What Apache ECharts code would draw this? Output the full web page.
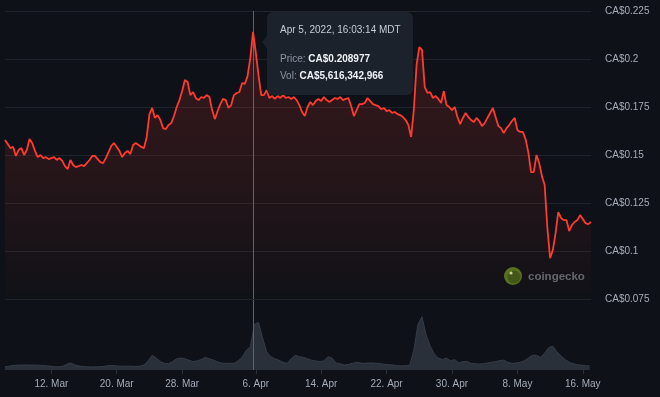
<!DOCTYPE html>
<html>
<head>
<meta charset="utf-8">
<script src="https://cdn.jsdelivr.net/npm/echarts@6/dist/echarts.min.js"></script>
<style>
html,body{margin:0;padding:0;background:#0e1117;}
#chart{width:660px;height:397px;}
</style>
</head>
<body>
<div id="chart"></div>
<script>
var HOUR = 3600 * 1000;

// price, CA$, one reading every 8 hours from 6 Mar 2022 08:00
var priceStart = new Date(2022, 2, 6, 8).getTime();
var priceStepHours = 8;
var prices = [
    0.1578,0.1557,0.1536,0.1542,0.1495,0.1526,0.1536,0.1500,0.1526,0.1583,
    0.1562,0.1521,0.1489,0.1500,0.1484,0.1489,0.1479,0.1484,0.1489,0.1474,
    0.1484,0.1469,0.1442,0.1427,0.1474,0.1448,0.1437,0.1442,0.1448,0.1442,
    0.1458,0.1474,0.1495,0.1495,0.1479,0.1463,0.1458,0.1484,0.1515,0.1547,
    0.1562,0.1542,0.1521,0.1489,0.1510,0.1521,0.1505,0.1552,0.1562,0.1552,
    0.1542,0.1536,0.1594,0.1713,0.1745,0.1693,0.1708,0.1682,0.1640,0.1635,
    0.1656,0.1666,0.1703,0.1750,0.1786,0.1833,0.1891,0.1880,0.1812,0.1828,
    0.1797,0.1786,0.1802,0.1797,0.1812,0.1802,0.1734,0.1687,0.1729,0.1765,
    0.1792,0.1786,0.1745,0.1760,0.1812,0.1823,0.1828,0.1875,0.1870,0.1912,
    0.2005,0.2141,0.2036,0.1917,0.1812,0.1812,0.1838,0.1797,0.1807,0.1792,
    0.1807,0.1797,0.1812,0.1797,0.1802,0.1792,0.1802,0.1786,0.1760,0.1724,
    0.1703,0.1750,0.1776,0.1760,0.1781,0.1792,0.1781,0.1802,0.1786,0.1776,
    0.1786,0.1797,0.1792,0.1802,0.1786,0.1792,0.1797,0.1755,0.1703,0.1734,
    0.1765,0.1765,0.1771,0.1797,0.1781,0.1765,0.1760,0.1755,0.1739,0.1745,
    0.1729,0.1734,0.1719,0.1724,0.1713,0.1708,0.1698,0.1682,0.1656,0.1594,
    0.1734,0.1969,0.2062,0.2047,0.1854,0.1823,0.1828,0.1797,0.1807,0.1792,
    0.1771,0.1833,0.1760,0.1750,0.1734,0.1750,0.1698,0.1661,0.1693,0.1719,
    0.1698,0.1682,0.1672,0.1693,0.1677,0.1651,0.1666,0.1693,0.1719,0.1745,
    0.1698,0.1651,0.1640,0.1614,0.1640,0.1656,0.1677,0.1693,0.1630,0.1620,
    0.1620,0.1583,0.1515,0.1411,0.1411,0.1500,0.1458,0.1390,0.1344,0.1119,
    0.0963,0.1005,0.1093,0.1203,0.1172,0.1161,0.1161,0.1104,0.1135,0.1151,
    0.1161,0.1187,0.1166,0.1145,0.1140,0.1151
];

// 24h volume, billions of CA$, one reading every 12 hours
var volStart = new Date(2022, 2, 6, 8).getTime();
var volStepHours = 12;
var volumes = [
    0.45,0.55,0.65,0.7,0.7,0.72,0.7,0.7,0.68,0.65,
    0.6,0.55,0.45,0.45,0.5,0.8,1.0,0.75,0.6,0.5,
    0.45,0.42,0.45,0.45,0.5,0.6,0.65,0.6,0.55,0.55,
    0.55,0.55,0.5,0.55,0.7,1.3,2.1,1.7,1.2,0.95,
    0.9,1.2,1.6,1.7,1.6,1.4,1.2,1.3,1.5,1.8,
    1.6,1.4,1.15,1.0,0.95,0.95,0.95,1.3,1.8,2.8,
    3.3,6.5,6.8,4.6,2.6,1.9,1.6,1.4,1.1,0.95,
    1.6,2.1,1.9,1.8,1.6,1.4,1.3,1.2,1.3,1.9,
    1.7,1.0,0.9,0.7,0.8,0.95,1.1,1.0,0.95,1.0,
    1.0,0.95,0.9,0.8,0.75,0.7,0.6,0.6,0.6,0.7,
    2.8,6.5,7.6,5.0,3.4,2.3,1.7,1.5,1.7,1.3,
    1.5,1.0,1.2,1.2,0.95,0.9,0.85,0.9,1.0,1.1,
    1.2,1.35,1.4,1.1,0.95,1.0,1.1,1.3,1.7,2.1,
    2.1,1.8,2.4,3.2,3.4,2.6,2.0,1.5,1.1,0.9,
    0.75,0.7,0.6,0.6
];

// x-axis labels: [month index, day]
var tickDates = [[2,12],[2,20],[2,28],[3,6],[3,14],[3,22],[3,30],[4,8],[4,16]];
var monthNames = ['Jan','Feb','Mar','Apr','May','Jun','Jul','Aug','Sep','Oct','Nov','Dec'];

var cursorTime = new Date(2022, 3, 5, 16, 3, 14).getTime();
var tipDate = 'Apr 5, 2022, 16:03:14 MDT';
var tipPrice = 'CA$0.208977';
var tipVol = 'CA$5,616,342,966';

function toPairs(start, stepHours, values){
    var out = [];
    for(var i = 0; i < values.length; i++){
        out.push([start + i * stepHours * HOUR, values[i]]);
    }
    return out;
}

var priceData = toPairs(priceStart, priceStepHours, prices);
var volData = toPairs(volStart, volStepHours, volumes);
var xMin = priceData[0][0];
var xMax = priceData[priceData.length - 1][0];
var tickValues = tickDates.map(function(d){ return new Date(2022, d[0], d[1]).getTime(); });

var labelColor = '#a3acb9';
var font = '"Liberation Sans", Arial, sans-serif';

var cursorLine = {
    silent: true,
    symbol: ['none','none'],
    label: {show: false},
    lineStyle: {color: '#5c636e', width: 1, type: 'solid'},
    data: [{xAxis: cursorTime}]
};

var option = {
    backgroundColor: '#0e1117',
    animation: false,
    grid: [
        {left: 5, right: 69, top: 11, bottom: 98},
        {left: 5, right: 69, top: 300, bottom: 27}
    ],
    xAxis: [
        {
            type: 'value', gridIndex: 0, min: xMin, max: xMax,
            axisLine: {show: false}, axisTick: {show: false},
            axisLabel: {show: false}, splitLine: {show: false}
        },
        {
            type: 'value', gridIndex: 1, min: xMin, max: xMax,
            axisLine: {show: false},
            axisTick: {show: true, customValues: tickValues, length: 4, lineStyle: {color: '#2c333d'}},
            axisLabel: {
                customValues: tickValues,
                color: labelColor, fontSize: 10, fontFamily: font, margin: 9,
                formatter: function(v){
                    var d = new Date(v);
                    return d.getDate() + '. ' + monthNames[d.getMonth()];
                }
            },
            splitLine: {show: false}
        }
    ],
    yAxis: [
        {
            type: 'value', gridIndex: 0, position: 'right',
            min: 0.075, max: 0.225, interval: 0.025,
            axisLine: {show: false}, axisTick: {show: false},
            axisLabel: {
                color: labelColor, fontSize: 10, fontFamily: font, margin: 14,
                formatter: function(v){ return 'CA$' + parseFloat(v.toFixed(3)); }
            },
            splitLine: {lineStyle: {color: '#1e242c', width: 1}}
        },
        {
            type: 'value', gridIndex: 1, min: 0, max: 10,
            show: false, splitLine: {show: false}
        }
    ],
    graphic: [
        // watermark
        {type: 'circle', shape: {cx: 513, cy: 276, r: 9}, style: {fill: '#55731f'}, z: 1},
        {type: 'circle', shape: {cx: 514, cy: 277, r: 6.5}, style: {fill: '#3e5717'}, z: 1},
        {type: 'circle', shape: {cx: 511, cy: 273, r: 1.6}, style: {fill: '#c6d49a'}, z: 1},
        {type: 'text', x: 528, y: 277, z: 1, style: {
            text: 'coingecko', fill: '#62686f', fontSize: 11.5, fontWeight: 'bold',
            fontFamily: font, verticalAlign: 'middle'
        }},
        // tooltip box
        {type: 'rect', shape: {x: 267, y: 12, width: 146, height: 83, r: 6},
            style: {fill: '#1c222b'}, z: 100},
        {type: 'polygon', shape: {points: [[267, 36], [262, 42], [267, 48]]},
            style: {fill: '#1c222b'}, z: 100},
        {type: 'text', x: 280, y: 30, z: 101, style: {
            text: tipDate, fill: '#c5ccd6', fontSize: 10, fontFamily: font, verticalAlign: 'middle'
        }},
        {type: 'text', x: 280, y: 59, z: 101, style: {
            text: '{a|Price: }{b|' + tipPrice + '}', verticalAlign: 'middle',
            rich: {
                a: {fill: '#8c96a4', fontSize: 10, fontFamily: font},
                b: {fill: '#eef1f5', fontSize: 10, fontFamily: font, fontWeight: 'bold'}
            }
        }},
        {type: 'text', x: 280, y: 76, z: 101, style: {
            text: '{a|Vol: }{b|' + tipVol + '}', verticalAlign: 'middle',
            rich: {
                a: {fill: '#8c96a4', fontSize: 10, fontFamily: font},
                b: {fill: '#eef1f5', fontSize: 10, fontFamily: font, fontWeight: 'bold'}
            }
        }}
    ],
    series: [
        {
            name: 'Price', type: 'line', xAxisIndex: 0, yAxisIndex: 0,
            data: priceData, showSymbol: false, z: 5,
            lineStyle: {color: '#ff3b30', width: 1.8},
            areaStyle: {
                color: new echarts.graphic.LinearGradient(0, 0, 0, 1, [
                    {offset: 0, color: 'rgba(255,59,48,0.26)'},
                    {offset: 0.6, color: 'rgba(255,59,48,0.12)'},
                    {offset: 1, color: 'rgba(255,59,48,0.01)'}
                ])
            },
            markLine: cursorLine
        },
        {
            name: 'Volume', type: 'line', xAxisIndex: 1, yAxisIndex: 1,
            data: volData, showSymbol: false, z: 3,
            lineStyle: {color: '#343c48', width: 1},
            areaStyle: {color: '#29303a', opacity: 1},
            markLine: cursorLine
        }
    ]
};

var myChart = echarts.init(document.getElementById('chart'));
myChart.setOption(option);
</script>
</body>
</html>
